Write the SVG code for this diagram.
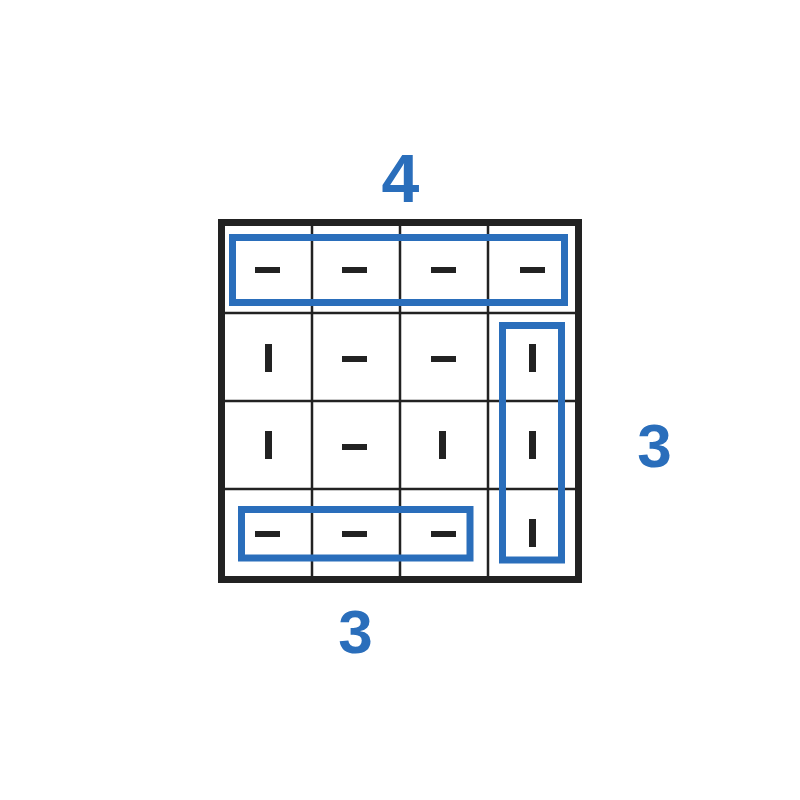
<svg xmlns="http://www.w3.org/2000/svg" width="800" height="800" viewBox="0 0 800 800">
  <style>
    .grid { stroke: #222; stroke-width: 2.5; fill: none; }
    .frame { stroke: #222; stroke-width: 7; fill: none; }
    .group { stroke: #2a6ebb; stroke-width: 7; fill: none; stroke-linejoin: miter; }
    .h { fill: #222; }
    .v { fill: #222; }
    .num { fill: #2a6ebb; font-family: "Liberation Sans", Arial, sans-serif; font-weight: bold; text-anchor: middle; }
  </style>
  <defs>
    <rect id="hd" x="-12.5" y="-3" width="25" height="6"/>
    <rect id="vd" x="-3.5" y="-14" width="7" height="28"/>
  </defs>
  <rect width="800" height="800" fill="#ffffff"/>
  <g id="grid">
    <line class="grid" x1="312" y1="222.5" x2="312" y2="579.5"/>
    <line class="grid" x1="400" y1="222.5" x2="400" y2="579.5"/>
    <line class="grid" x1="488" y1="222.5" x2="488" y2="579.5"/>
    <line class="grid" x1="221.5" y1="313" x2="578.5" y2="313"/>
    <line class="grid" x1="221.5" y1="401" x2="578.5" y2="401"/>
    <line class="grid" x1="221.5" y1="489" x2="578.5" y2="489"/>
    <rect class="frame" x="221.5" y="222.5" width="357" height="357"/>
  </g>
  <g id="marks">
    <use href="#hd" class="h" x="267.5" y="270"/>
    <use href="#hd" class="h" x="354.5" y="270"/>
    <use href="#hd" class="h" x="443.5" y="270"/>
    <use href="#hd" class="h" x="532.5" y="270"/>
    <use href="#vd" class="v" x="268.5" y="358"/>
    <use href="#hd" class="h" x="354.5" y="359"/>
    <use href="#hd" class="h" x="443.5" y="359"/>
    <use href="#vd" class="v" x="532.5" y="358"/>
    <use href="#vd" class="v" x="268.5" y="445"/>
    <use href="#hd" class="h" x="354.5" y="447"/>
    <use href="#vd" class="v" x="442.5" y="445"/>
    <use href="#vd" class="v" x="532.5" y="445"/>
    <use href="#hd" class="h" x="267.5" y="534"/>
    <use href="#hd" class="h" x="354.5" y="534"/>
    <use href="#hd" class="h" x="443.5" y="534"/>
    <use href="#vd" class="v" x="532.5" y="533"/>
  </g>
  <g id="groups">
    <rect class="group" x="232.5" y="237.5" width="332" height="65"/>
    <rect class="group" x="502.5" y="325.5" width="59" height="234.5"/>
    <rect class="group" x="241.5" y="509.5" width="228.5" height="48.5"/>
  </g>
  <g id="labels">
    <text class="num" x="400.5" y="202" font-size="68">4</text>
    <text class="num" x="654.5" y="467" font-size="62">3</text>
    <text class="num" x="355.5" y="653" font-size="62">3</text>
  </g>
</svg>
